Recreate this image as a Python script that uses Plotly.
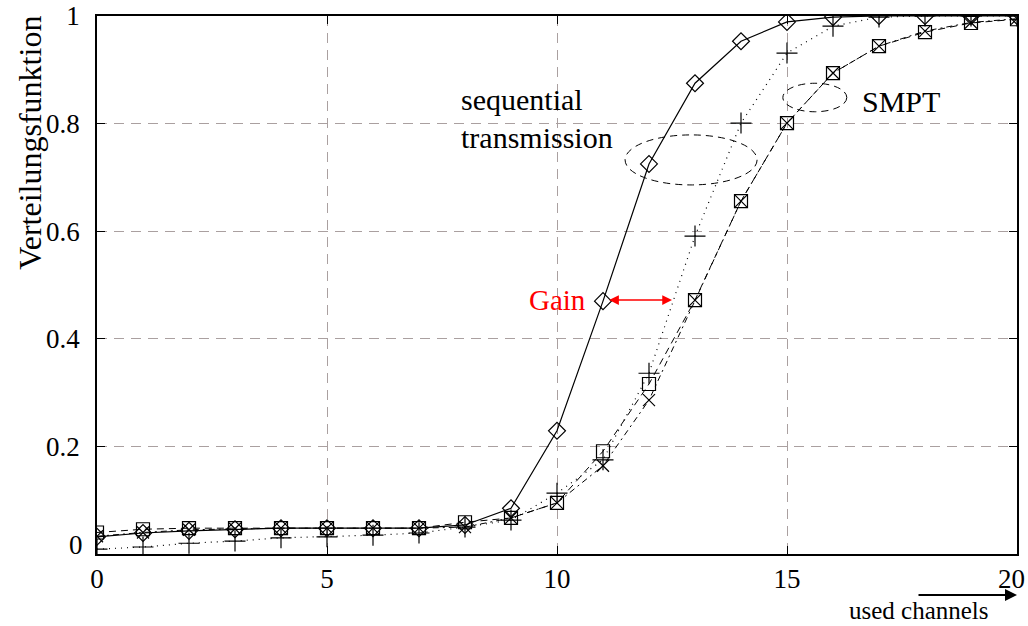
import plotly.graph_objects as go

channels = list(range(21))
seq_diamond = [0.032, 0.039, 0.043, 0.046, 0.048, 0.048, 0.048, 0.048, 0.054, 0.085, 0.229,
               0.470, 0.725, 0.875, 0.953, 0.989, 0.998, 1.0, 1.0, 1.0, 1.0]
seq_plus = [0.009, 0.013, 0.020, 0.024, 0.030, 0.032, 0.035, 0.039, 0.050, 0.063, 0.113,
            0.175, 0.336, 0.591, 0.801, 0.931, 0.981, 0.998, 1.0, 1.0, 1.0]
smpt_square = [0.040, 0.046, 0.048, 0.048, 0.048, 0.048, 0.048, 0.048, 0.059, 0.067, 0.095,
               0.191, 0.316, 0.472, 0.656, 0.801, 0.894, 0.944, 0.970, 0.987, 0.994]
smpt_x = [0.033, 0.040, 0.045, 0.047, 0.048, 0.048, 0.048, 0.048, 0.050, 0.067, 0.095,
          0.164, 0.286, 0.472, 0.656, 0.801, 0.894, 0.944, 0.972, 0.988, 0.995]

x_ticks = [0, 5, 10, 15, 20]
x_ticklabels = ["0", "5", "10", "15", ""]
y_ticks = [0.2, 0.4, 0.6, 0.8, 1]
y_ticklabels = ["0.2", "0.4", "0.6", "0.8", "1"]

FONT = "Liberation Serif"
fig = go.Figure()

fig.add_trace(go.Scatter(x=channels, y=smpt_square, mode="lines+markers",
                         line=dict(color="black", width=1, dash="7px,5px"),
                         marker=dict(symbol="square-open", size=13, color="black", line=dict(width=1.2))))
fig.add_trace(go.Scatter(x=channels, y=smpt_x, mode="lines+markers",
                         line=dict(color="black", width=1, dash="6px,4px,2px,4px"),
                         marker=dict(symbol="x-thin-open", size=12, color="black", line=dict(width=1.2))))
fig.add_trace(go.Scatter(x=channels, y=seq_plus, mode="lines+markers",
                         line=dict(color="black", width=1.2, dash="1px,5px"),
                         marker=dict(symbol="cross-thin-open", size=15, color="black", line=dict(width=1.2))))
fig.add_trace(go.Scatter(x=channels, y=seq_diamond, mode="lines+markers",
                         line=dict(color="black", width=1.2),
                         marker=dict(symbol="diamond-open", size=13, color="black", line=dict(width=1.2))))

shapes = [
    dict(type="circle", xref="x", yref="y", x0=11.48, x1=14.35, y0=0.686, y1=0.779,
         line=dict(color="black", width=1, dash="7px,5px")),
    dict(type="circle", xref="x", yref="y", x0=14.91, x1=16.30, y0=0.822, y1=0.875,
         line=dict(color="black", width=1, dash="7px,5px")),
]

annotations = [
    dict(x=7.88, y=0.844, xref="x", yref="y", text="sequential", showarrow=False,
         xanchor="left", yanchor="middle", font=dict(family=FONT, size=30, color="black")),
    dict(x=7.88, y=0.775, xref="x", yref="y", text="transmission", showarrow=False,
         xanchor="left", yanchor="middle", font=dict(family=FONT, size=30, color="black")),
    dict(x=16.58, y=0.842, xref="x", yref="y", text="SMPT", showarrow=False,
         xanchor="left", yanchor="middle", font=dict(family=FONT, size=30, color="black")),
    dict(x=10.67, y=0.472, xref="x", yref="y", text="Gain", showarrow=False,
         xanchor="right", yanchor="middle", font=dict(family=FONT, size=29, color="red")),
    dict(x=12.5, y=0.472, ax=11.1, ay=0.472, xref="x", yref="y", axref="x", ayref="y",
         text="", showarrow=True, arrowhead=2, arrowside="end+start", arrowsize=1.3,
         arrowwidth=1.5, arrowcolor="red"),
    dict(x=1.0, y=-0.0762, ax=-100, ay=0, xref="paper", yref="paper", axref="pixel", ayref="pixel",
         text="", showarrow=True, arrowhead=2, arrowsize=1.2, arrowwidth=2, arrowcolor="black"),
    dict(x=0.893, y=-0.1045, xref="paper", yref="paper", text="used channels", showarrow=False,
         xanchor="center", yanchor="middle", font=dict(family=FONT, size=25, color="black")),
    dict(x=0, y=0, xref="paper", yref="y", text="0", showarrow=False, xanchor="right",
         yanchor="middle", xshift=-12, yshift=9, font=dict(family=FONT, size=27, color="black")),
    dict(x=20, y=0, xref="x", yref="paper", text="20", showarrow=False, xanchor="center",
         yanchor="top", xshift=-6, yshift=-8, font=dict(family=FONT, size=27, color="black")),
    dict(x=-0.073, y=0.764, xref="paper", yref="paper", text="Verteilungsfunktion", showarrow=False,
         textangle=-90, xanchor="center", yanchor="middle", font=dict(family=FONT, size=32, color="black")),
]

grid = dict(showgrid=True, gridcolor="#aaa0a0", gridwidth=1, griddash="10px,7px")

fig.update_layout(
    width=1028, height=626,
    margin=dict(l=97, r=11, t=16, b=72),
    paper_bgcolor="white", plot_bgcolor="white",
    showlegend=False,
    font=dict(family=FONT, size=27, color="black"),
    shapes=shapes, annotations=annotations,
    xaxis=dict(range=[0, 20], tickvals=x_ticks, ticktext=x_ticklabels, ticks="inside", ticklen=8,
               tickcolor="black", showline=True, linecolor="black", linewidth=1.5, mirror="ticks",
               zeroline=False, automargin=False, ticklabelstandoff=0, ticklabeloverflow="allow",
               tickfont=dict(family=FONT, size=27), **grid),
    yaxis=dict(range=[0, 1], tickvals=y_ticks, ticktext=y_ticklabels, ticks="inside", ticklen=8,
               tickcolor="black", showline=True, linecolor="black", linewidth=1.5, mirror="ticks",
               zeroline=False, automargin=False, tickfont=dict(family=FONT, size=27),
               ticklabelstandoff=10, ticklabeloverflow="allow", **grid),
)

fig.write_html("out.html", config={"displayModeBar": False},
               post_script="document.body.style.margin='0';document.body.style.overflow='hidden';")
